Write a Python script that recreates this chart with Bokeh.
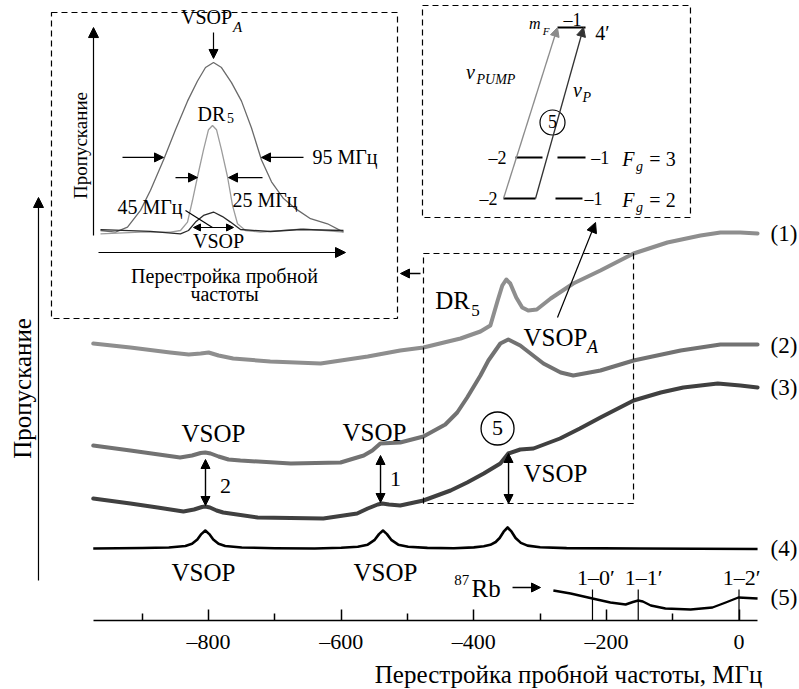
import math
from bokeh.plotting import figure
from bokeh.models import Range1d, Label, Arrow, NormalHead, FixedTicker
from bokeh.embed import file_html
from bokeh.resources import INLINE

FONT = "Liberation Serif"

# ---------------- main spectra (probe detuning, MHz ; transmission, arb. units) ----------------
f1 = [-974, -918, -858, -830, -812, -800, -785, -763, -707, -631, -560, -511, -476, -445, -420, -390,
      -375, -364, -357, -351, -345, -336, -327, -318, -305, -284, -250, -209, -159, -108, -58, -28, 2, 28]
t1 = [277, 273, 268, 266, 267, 268, 265, 262, 259, 257, 264, 270, 273, 278, 282, 289,
      295, 320, 335, 341, 337, 323, 313, 310, 311, 322, 337, 350, 367, 378, 385, 388, 388, 387]

f2 = [-974, -918, -843, -825, -812, -805, -797, -785, -770, -752, -676, -601, -566, -553, -541, -511,
      -476, -443, -425, -410, -390, -378, -360, -348, -330, -295, -269, -250, -209, -159, -88, -28, 28]
t2 = [175, 170, 163, 165, 167.5, 168, 167, 164, 161, 160, 157, 158, 165, 170, 177, 178,
      184, 196, 208, 223, 245, 260, 277, 281, 275, 257, 248, 245, 250, 260, 270, 276, 276]

f3 = [-974, -918, -877, -838, -822, -810, -805, -798, -788, -778, -726, -627, -576, -560, -545, -538,
      -528, -511, -476, -435, -410, -385, -360, -348, -330, -310, -270, -240, -209, -159, -118, -84,
      -32, 2, 28]
t3 = [122, 117, 113, 109, 111, 113.5, 114, 113, 110, 108, 103, 102, 107, 112, 116, 117,
      116, 115, 120, 130, 138, 147, 157, 167, 171, 172, 182, 192, 203, 220, 228, 233,
      237, 235, 233]

f4 = [-974, -900, -860, -835, -825, -817, -811, -805, -799, -793, -785, -775, -750, -700, -640, -600,
      -575, -560, -550, -543, -537, -531, -524, -514, -499, -470, -430, -400, -385, -375, -367, -361,
      -355, -349, -343, -337, -329, -319, -300, -260, -150, 28]
t4 = [72, 72.5, 73, 74.5, 76.7, 81, 86.4, 90, 86.4, 81, 76.7, 74.5, 73, 72.3, 72, 72.7,
      73.8, 75.8, 80.3, 86.4, 90, 86.4, 80.3, 75.8, 73.8, 72.6, 72.2, 73.1, 74.2, 75.7, 78.5, 82.5,
      88.8, 93, 88.8, 82.5, 77.6, 74.9, 73.2, 72.4, 72, 71.5]

f5 = [-280, -254, -221, -194, -171, -160, -152, -145, -133, -111, -73, -40, -20, -1, 28]
t5 = [30, 27, 22, 18, 16, 18.5, 20, 19, 15, 12, 11, 13, 18, 23, 22]

rb_freq = [-221, -152, 0]
rb_labels = ["1–0′", "1–1′", "1–2′"]
rb_label_x = [-216, -144, 4]

curve_names = ["(1)", "(2)", "(3)", "(4)", "(5)"]
curve_name_y = [387, 275, 233, 72, 23]

tick_vals = [-800, -600, -400, -200, 0]
tick_labels = ["–800", "–600", "–400", "–200", "0"]
minor_vals = [-900, -700, -500, -300, -100]

# ---------------- inset (detuning from line centre, MHz ; normalised transmission) ----------------
det_a = [-113, -98, -86, -73, -63, -50, -38, -26, -16, -8, 0, 8, 18, 28, 38, 48, 58, 70, 82, 97, 114, 130]
ins_a = [0.0, -0.01, 0.02, 0.12, 0.24, 0.42, 0.60, 0.77, 0.89, 0.97, 1.0, 0.97, 0.88, 0.77, 0.61, 0.42,
         0.29, 0.19, 0.13, 0.07, 0.04, -0.01]
det_dr = [-113, -73, -43, -33, -26, -21, -16, -10, -5, -1, 3, 8, 14, 19, 24, 32, 47, 90, 130]
ins_dr = [-0.02, -0.01, -0.01, 0.0, 0.05, 0.18, 0.32, 0.48, 0.60, 0.625, 0.60, 0.48, 0.32, 0.15, 0.04,
          0.0, -0.01, 0.01, -0.01]
det_v = [-113, -63, -33, -25, -18, -10, 0, 9, 17, 27, 57, 87, 130]
ins_v = [0.005, -0.005, -0.02, 0.0, 0.05, 0.09, 0.11, 0.083, 0.05, 0.006, -0.006, 0.006, 0.0]

# ---------------- figure ----------------
p = figure(width=799, height=689,
           x_range=Range1d(-1113.9, 91.25), y_range=Range1d(-69, 620),
           output_backend="svg", toolbar_location=None, y_axis_location=None,
           min_border_left=0, min_border_right=0, min_border_top=0, min_border_bottom=0)
p.outline_line_color = None
p.grid.visible = False
p.extra_x_ranges = {"ix": Range1d(-213, 586)}
p.extra_y_ranges = {"iy": Range1d(-2.732, 1.369)}

ax = p.xaxis[0]
ax.fixed_location = 0
ax.ticker = FixedTicker(ticks=tick_vals, minor_ticks=minor_vals)
ax.major_label_overrides = {v: s for v, s in zip(tick_vals, tick_labels)}
ax.bounds = (-974, 28)
ax.major_tick_in = 11
ax.major_tick_out = 0
ax.minor_tick_in = 7
ax.minor_tick_out = 0
ax.axis_line_width = 1.5
ax.major_tick_line_width = 1.5
ax.minor_tick_line_width = 1.5
ax.major_label_text_font = FONT
ax.major_label_text_font_size = "22px"
ax.major_label_text_color = "black"
ax.major_label_standoff = 8


def lab(x, y, text, size=25, align="center", base="middle", style="normal", angle=0.0,
        xr="default", yr="default", color="black"):
    p.add_layout(Label(x=x, y=y, text=text, text_font=FONT, text_font_size=f"{size}px",
                       text_align=align, text_baseline=base, text_font_style=style, angle=angle,
                       x_range_name=xr, y_range_name=yr, text_color=color))


def arrow(x0, y0, x1, y1, both=False, size=9, xr="default", yr="default", color="black", width=1.3):
    head = lambda: NormalHead(size=size, fill_color=color, line_color=color, line_width=1)
    kw = dict(end=head(), x_start=x0, y_start=y0, x_end=x1, y_end=y1,
              line_width=width, line_color=color, x_range_name=xr, y_range_name=yr)
    if both:
        kw["start"] = head()
    p.add_layout(Arrow(**kw))


# main curves
p.line(f1, t1, line_width=4, color="#8e8e8e", line_join="round", line_cap="round")
p.line(f2, t2, line_width=4, color="#727272", line_join="round", line_cap="round")
p.line(f3, t3, line_width=4, color="#404040", line_join="round", line_cap="round")
p.line(f4, t4, line_width=2.6, color="black", line_join="round")
p.line(f5, t5, line_width=2.4, color="black", line_join="round")
p.segment(x0=rb_freq, y0=[0] * 3, x1=rb_freq, y1=[31] * 3, line_color="black", line_width=1.2)
for xx, s in zip(rb_label_x, rb_labels):
    lab(xx, 43, s, size=22)
for s, yy in zip(curve_names, curve_name_y):
    lab(47.5, yy, s, size=23, align="left")

# dashed frames
p.quad(left=[-1037, -477.4, -475.9], right=[-515.1, -73.2, -159.1],
       top=[608, 615, 367], bottom=[302, 403, 117],
       fill_alpha=0, line_color="black", line_dash="6 4", line_width=1.2)

# main axis label / y arrow
arrow(-1056.6, 40, -1056.6, 423, size=10, width=1.2)
lab(-1080.7, 232, "Пропускание", size=25, angle=math.pi / 2)
lab(-257, -54, "Перестройка пробной частоты, МГц", size=25)

# main annotations
lab(-432.1, 320, "DR", size=25)
lab(-397.4, 310, "5", size=17)
lab(-276.8, 283, "VSOP", size=25)
lab(-221, 274, "A", size=18, style="italic")
arrow(-273.8, 303, -216.4, 398, size=10, width=1.2)
arrow(-480.4, 347, -510.6, 347, size=9, width=1.4)

p.scatter([-364.2], [192], size=33, marker="circle", fill_color=None, line_color="black", line_width=1.3)
lab(-364.2, 193, "5", size=22)
arrow(-347.6, 167, -347.6, 117, both=True, size=9, width=1.4)
lab(-276.8, 147, "VSOP", size=25)

lab(-792.6, 187, "VSOP", size=25)
lab(-549.8, 188, "VSOP", size=25)
arrow(-804.7, 161, -804.7, 115, both=True, size=9, width=1.4)
lab(-774.5, 135, "2", size=22)
arrow(-540.7, 165, -540.7, 118, both=True, size=9, width=1.4)
lab(-518.1, 142, "1", size=22)
lab(-807.7, 48, "VSOP", size=25)
lab(-533.2, 48, "VSOP", size=25)

lab(-407, 41, "87", size=15, align="right")
lab(-403.5, 32, "Rb", size=25, align="left")
arrow(-341.6, 33, -299.4, 33, size=9, width=1.4)

# ---------------- left inset ----------------
I = dict(x_range_name="ix", y_range_name="iy")
p.line(det_a, ins_a, line_width=1.3, color="#6a6a6a", **I)
p.line(det_dr, ins_dr, line_width=1.3, color="#9c9c9c", **I)
p.line(det_v, ins_v, line_width=1.3, color="#2a2a2a", **I)
arrow(-120, -0.03, -120, 1.208, size=10, width=1.2, xr="ix", yr="iy")
arrow(-115, -0.131, 132, -0.131, size=10, width=1.2, xr="ix", yr="iy")
lab(-133, 0.506, "Пропускание", size=19, angle=math.pi / 2, xr="ix", yr="iy")
lab(11, -0.268, "Перестройка пробной", size=20, xr="ix", yr="iy")
lab(11, -0.375, "частоты", size=20, xr="ix", yr="iy")
lab(-7, 1.27, "VSOP", size=20, xr="ix", yr="iy")
lab(24, 1.21, "A", size=15, style="italic", xr="ix", yr="iy")
arrow(0, 1.179, 0, 1.024, size=9, width=1.2, xr="ix", yr="iy")
lab(-2, 0.696, "DR", size=20, xr="ix", yr="iy")
lab(17, 0.667, "5", size=14, xr="ix", yr="iy")
arrow(-91, 0.435, -50, 0.435, size=9, width=1.2, xr="ix", yr="iy")
arrow(90, 0.435, 48, 0.435, size=9, width=1.2, xr="ix", yr="iy")
lab(99, 0.435, "95 МГц", size=20, align="left", xr="ix", yr="iy")
arrow(-38, 0.315, -16, 0.315, size=9, width=1.2, xr="ix", yr="iy")
arrow(49, 0.315, 15, 0.315, size=9, width=1.2, xr="ix", yr="iy")
lab(19, 0.18, "25 МГц", size=20, align="left", xr="ix", yr="iy")
arrow(-20, 0.018, 20, 0.018, both=True, size=7, width=1.2, xr="ix", yr="iy")
lab(-31, 0.137, "45 МГц", size=20, align="right", xr="ix", yr="iy")
p.segment(x0=[-28], y0=[0.119], x1=[-1], y1=[0.018], line_color="black", line_width=1.1, **I)
lab(5, -0.06, "VSOP", size=20, xr="ix", yr="iy")

# ---------------- right inset: level scheme ----------------
p.segment(x0=[-273.8, -337.1, -273.8, -355.2, -276.8], y0=[593, 463, 463, 422, 422],
          x1=[-231.5, -296.4, -231.5, -306.9, -236.1], y1=[593, 463, 463, 422, 422],
          line_color="black", line_width=2)
arrow(-355.2, 422, -273.8, 593, size=9, width=1.3, color="#8c8c8c")
arrow(-306.9, 422, -234.5, 593, size=9, width=1.3, color="#333333")
lab(-251.1, 601, "–1", size=18)
lab(-308, 597, "m", size=16, style="italic")
lab(-291, 590, "F", size=11, style="italic")
lab(-205.9, 588, "4′", size=20)
lab(-364.2, 463, "–2", size=18)
lab(-209.2, 463, "–1", size=18)
lab(-377.8, 422, "–2", size=18)
lab(-219.5, 422, "–1", size=18)
for yy, s in [(462, "= 3"), (421, "= 2")]:
    lab(-166.7, yy, "F", size=20, style="italic")
    lab(-150.1, yy - 8, "g", size=14, style="italic")
    lab(-115.4, yy, s, size=20)
lab(-405.0, 549, "ν", size=20, style="italic")
lab(-395.9, 541, "PUMP", size=14, style="italic", align="left")
lab(-243.6, 531, "ν", size=20, style="italic")
lab(-236.1, 523, "P", size=14, style="italic", align="left")
p.scatter([-281.3], [498], size=25, marker="circle", fill_color="white", line_color="black", line_width=1.2)
lab(-281.3, 499, "5", size=18)

open("out.html", "w").write(file_html(p, INLINE))
